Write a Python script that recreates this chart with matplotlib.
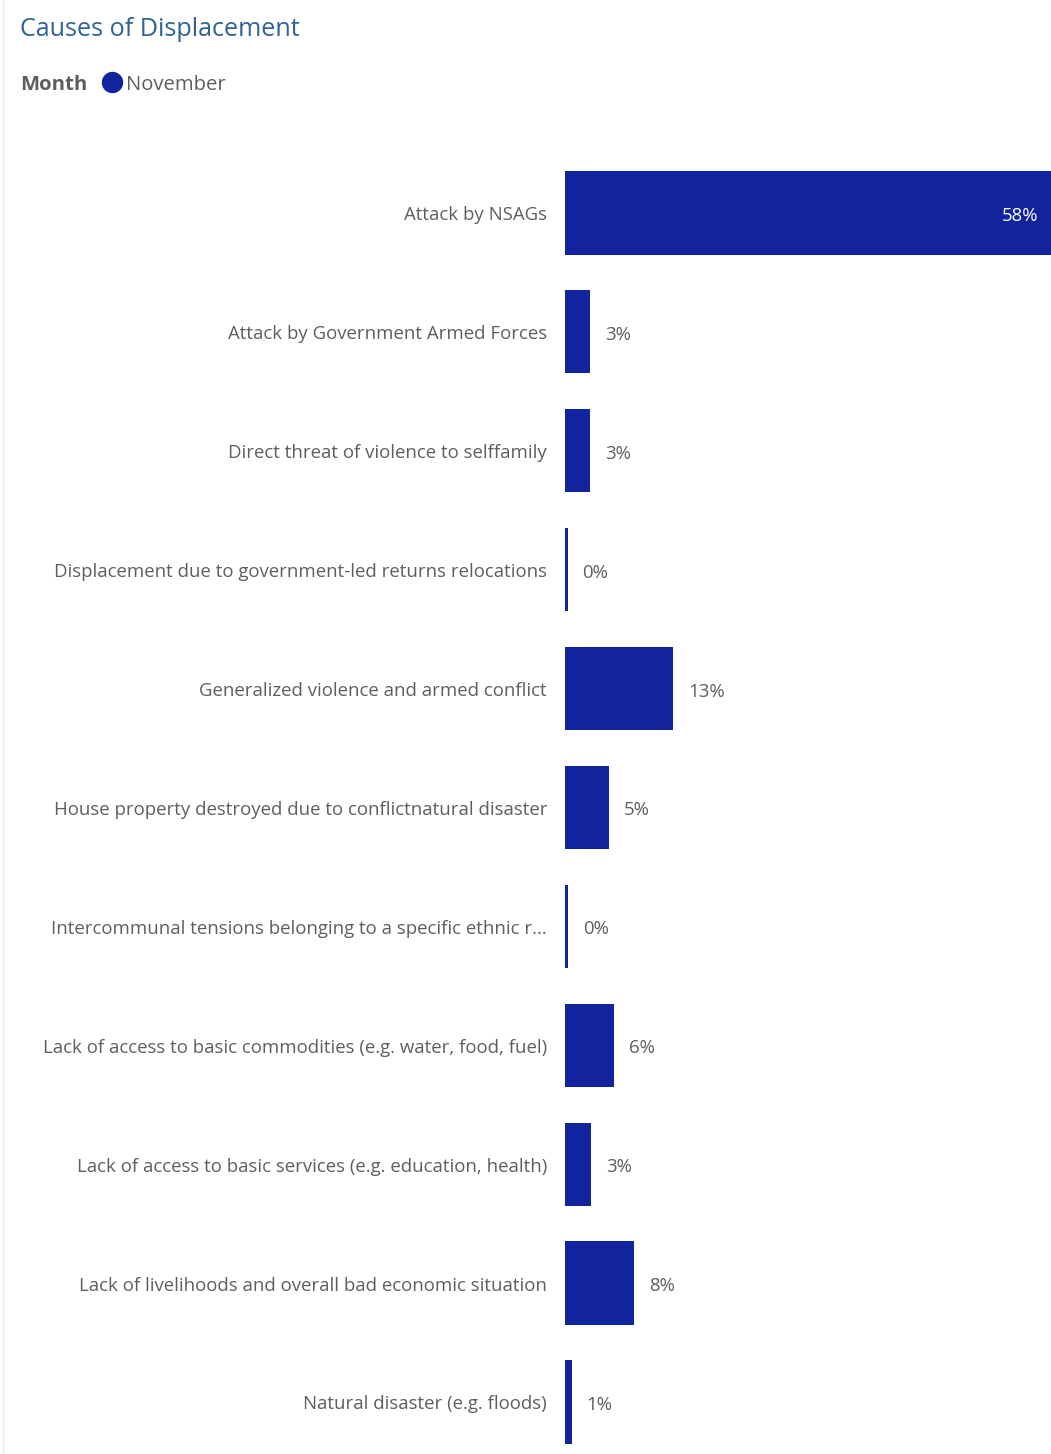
import matplotlib
matplotlib.use("Agg")
import matplotlib.pyplot as plt
from matplotlib.lines import Line2D

categories = [
    "Attack by NSAGs",
    "Attack by Government Armed Forces",
    "Direct threat of violence to selffamily",
    "Displacement due to government-led returns relocations",
    "Generalized violence and armed conflict",
    "House property destroyed due to conflictnatural disaster",
    "Intercommunal tensions belonging to a specific ethnic r...",
    "Lack of access to basic commodities (e.g. water, food, fuel)",
    "Lack of access to basic services (e.g. education, health)",
    "Lack of livelihoods and overall bad economic situation",
    "Natural disaster (e.g. floods)",
]
values = [58.0, 3.0, 3.0, 0.3, 12.9, 5.2, 0.4, 5.8, 3.1, 8.2, 0.8]
labels = ["58%", "3%", "3%", "0%", "13%", "5%", "0%", "6%", "3%", "8%", "1%"]

BAR = "#12239E"
GRAY = "#605E5C"
FONT = "Open Sans"

W, H = 1051, 1454
fig = plt.figure(figsize=(W / 100, H / 100), dpi=100)

x0 = 565
top = 153.5
ax = fig.add_axes([x0 / W, 0, (W - x0) / W, (H - top) / H])
n = len(categories)
ypos = list(range(n))
ax.barh(ypos, values, height=0.7, color=BAR)
ax.set_xlim(0, 58)
step = 118.9
ax.set_ylim(-0.5 + (H - top) / step, -0.5)
ax.axis("off")

for i, (cat, v, lab) in enumerate(zip(categories, values, labels)):
    ax.annotate(cat, xy=(0, i), xytext=(-18, -2.5), textcoords="offset pixels",
                ha="right", va="center", fontsize=13.4, color=GRAY, family=FONT)
    if v > 40:
        ax.annotate(lab, xy=(v, i), xytext=(-13, -3), textcoords="offset pixels",
                    ha="right", va="center", fontsize=13.4, color="white", family=FONT)
    else:
        ax.annotate(lab, xy=(v, i), xytext=(15, -3), textcoords="offset pixels",
                    ha="left", va="center", fontsize=13.4, color=GRAY, family=FONT)

fig.text(20 / W, 1 - 29 / H, "Causes of Displacement", ha="left", va="center",
         fontsize=18.1, color="#2E6395", family=FONT)
fig.text(20 / W, 1 - 85 / H, "Month", ha="left", va="center",
         fontsize=14.6, color=GRAY, family=FONT, fontweight="bold")
fig.add_artist(Line2D([112 / W], [1 - 82 / H], marker="o", markersize=14.4,
                      color=BAR, transform=fig.transFigure))
fig.text(126 / W, 1 - 85 / H, "November", ha="left", va="center",
         fontsize=14.6, color=GRAY, family=FONT)
fig.add_artist(Line2D([3 / W, 3 / W], [0, 1], color="#E8E8E8", lw=1,
                      transform=fig.transFigure))

fig.savefig("out.png", dpi=100)
